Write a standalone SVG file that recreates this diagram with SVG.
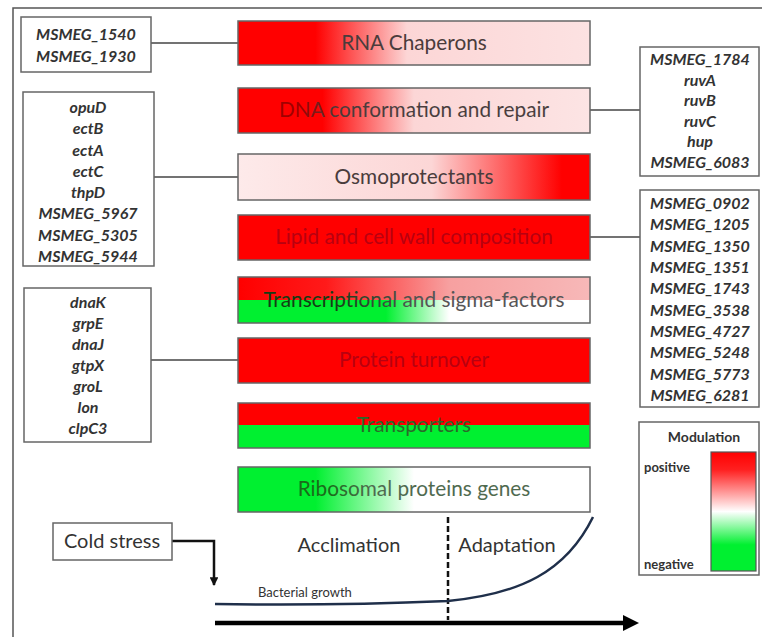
<svg xmlns="http://www.w3.org/2000/svg" width="762" height="637" viewBox="0 0 762 637">
<defs>
<style>
.frame{fill:none;stroke:#555;stroke-width:1.5}
.gbox{fill:#fff;stroke:#666;stroke-width:1.5}
.gene{font-family:Lato,"Liberation Sans",sans-serif;font-size:16px;font-weight:bold;font-style:italic;fill:#333;text-anchor:middle}
.bar{stroke:#666;stroke-width:1.5}
.blabel{font-family:Lato,"Liberation Sans",sans-serif;font-size:20.8px;text-anchor:middle}
.conn{fill:none;stroke:#444;stroke-width:1.5}
.lbl{font-family:Lato,"Liberation Sans",sans-serif;fill:#333}
.leg{font-family:Lato,"Liberation Sans",sans-serif;font-weight:bold;fill:#333}
</style>
<linearGradient id="gRna" x1="0" y1="0" x2="1" y2="0">
<stop offset="0" stop-color="#ff0000"/><stop offset="0.22" stop-color="#ff0000"/><stop offset="0.48" stop-color="#fcd6d6"/><stop offset="1" stop-color="#fce2e2"/>
</linearGradient>
<linearGradient id="gDna" x1="0" y1="0" x2="1" y2="0">
<stop offset="0" stop-color="#ff0000"/><stop offset="0.24" stop-color="#ff0000"/><stop offset="0.5" stop-color="#fcd6d6"/><stop offset="1" stop-color="#fce4e4"/>
</linearGradient>
<linearGradient id="gOsmo" x1="0" y1="0" x2="1" y2="0">
<stop offset="0" stop-color="#fdeaea"/><stop offset="0.55" stop-color="#fcd6d6"/><stop offset="0.92" stop-color="#ff0000"/><stop offset="1" stop-color="#ff0000"/>
</linearGradient>
<linearGradient id="gTrTop" x1="0" y1="0" x2="1" y2="0">
<stop offset="0" stop-color="#ff0000"/><stop offset="0.25" stop-color="#ff1a1a"/><stop offset="0.6" stop-color="#f7a0a0"/><stop offset="1" stop-color="#f7b8b8"/>
</linearGradient>
<linearGradient id="gTrBot" x1="0" y1="0" x2="1" y2="0">
<stop offset="0" stop-color="#00f030"/><stop offset="0.42" stop-color="#00f030"/><stop offset="0.6" stop-color="#ffffff"/><stop offset="1" stop-color="#ffffff"/>
</linearGradient>
<linearGradient id="gRibo" x1="0" y1="0" x2="1" y2="0">
<stop offset="0" stop-color="#00f030"/><stop offset="0.22" stop-color="#00f030"/><stop offset="0.5" stop-color="#ffffff"/><stop offset="1" stop-color="#ffffff"/>
</linearGradient>
<linearGradient id="gLeg" x1="0" y1="0" x2="0" y2="1">
<stop offset="0" stop-color="#ff0000"/><stop offset="0.15" stop-color="#ff2020"/><stop offset="0.5" stop-color="#ffffff"/><stop offset="0.78" stop-color="#00f030"/><stop offset="1" stop-color="#00f030"/>
</linearGradient>
<linearGradient id="tDna" gradientUnits="userSpaceOnUse" x1="300" y1="0" x2="335" y2="0">
<stop offset="0" stop-color="#a00000"/><stop offset="1" stop-color="#4a3c3c"/>
</linearGradient>
<linearGradient id="tTrans" gradientUnits="userSpaceOnUse" x1="330" y1="0" x2="420" y2="0">
<stop offset="0" stop-color="#143c14"/><stop offset="1" stop-color="#555555"/>
</linearGradient>
<linearGradient id="tRibo" gradientUnits="userSpaceOnUse" x1="330" y1="0" x2="370" y2="0">
<stop offset="0" stop-color="#1a6a1a"/><stop offset="1" stop-color="#4f6a4f"/>
</linearGradient>
<marker id="arrSmall" viewBox="0 0 10 10" refX="9" refY="5" markerWidth="3.5" markerHeight="3.5" orient="auto">
<path d="M0,0 L10,5 L0,10 z" fill="#111"/>
</marker>
</defs>

<rect width="762" height="637" fill="#fff"/>
<path class="frame" d="M13,637 V8 H762"/>

<g id="connectors">
<line class="conn" x1="151" y1="43" x2="238" y2="43"/>
<line class="conn" x1="154" y1="177" x2="238" y2="177"/>
<line class="conn" x1="151" y1="360" x2="238" y2="360"/>
<line class="conn" x1="590" y1="110" x2="640" y2="110"/>
<line class="conn" x1="590" y1="237" x2="640" y2="237"/>
<polyline points="172,541 214,541 214,585" fill="none" stroke="#111" stroke-width="2.5" marker-end="url(#arrSmall)"/>
</g>

<g id="genes-rna">
<rect class="gbox" x="21" y="17" width="130" height="55"/>
<text class="gene" x="86" y="40">MSMEG_1540</text>
<text class="gene" x="86" y="62">MSMEG_1930</text>
</g>

<g id="genes-osmo">
<rect class="gbox" x="23" y="92" width="131" height="174"/>
<text class="gene" x="88" y="113">opuD</text>
<text class="gene" x="88" y="134">ectB</text>
<text class="gene" x="88" y="156">ectA</text>
<text class="gene" x="88" y="177">ectC</text>
<text class="gene" x="88" y="198">thpD</text>
<text class="gene" x="88" y="219">MSMEG_5967</text>
<text class="gene" x="88" y="241">MSMEG_5305</text>
<text class="gene" x="88" y="262">MSMEG_5944</text>
</g>

<g id="genes-protein">
<rect class="gbox" x="24" y="288" width="127" height="154"/>
<text class="gene" x="88" y="308">dnaK</text>
<text class="gene" x="88" y="329">grpE</text>
<text class="gene" x="88" y="350">dnaJ</text>
<text class="gene" x="88" y="371">gtpX</text>
<text class="gene" x="88" y="392">groL</text>
<text class="gene" x="88" y="413">lon</text>
<text class="gene" x="88" y="434">clpC3</text>
</g>

<g id="genes-dna">
<rect class="gbox" x="640" y="47" width="119" height="129"/>
<text class="gene" x="700" y="65">MSMEG_1784</text>
<text class="gene" x="700" y="86">ruvA</text>
<text class="gene" x="700" y="106">ruvB</text>
<text class="gene" x="700" y="127">ruvC</text>
<text class="gene" x="700" y="147">hup</text>
<text class="gene" x="700" y="168">MSMEG_6083</text>
</g>

<g id="genes-lipid">
<rect class="gbox" x="640" y="190" width="119" height="217"/>
<text class="gene" x="700" y="209">MSMEG_0902</text>
<text class="gene" x="700" y="230">MSMEG_1205</text>
<text class="gene" x="700" y="252">MSMEG_1350</text>
<text class="gene" x="700" y="273">MSMEG_1351</text>
<text class="gene" x="700" y="294">MSMEG_1743</text>
<text class="gene" x="700" y="316">MSMEG_3538</text>
<text class="gene" x="700" y="337">MSMEG_4727</text>
<text class="gene" x="700" y="358">MSMEG_5248</text>
<text class="gene" x="700" y="380">MSMEG_5773</text>
<text class="gene" x="700" y="401">MSMEG_6281</text>
</g>

<g id="bar-rna">
<rect class="bar" x="238" y="21" width="352" height="44" fill="url(#gRna)"/>
<text class="blabel" x="414" y="50" fill="#4a3c3c">RNA Chaperons</text>
</g>
<g id="bar-dna">
<rect class="bar" x="238" y="88" width="352" height="45" fill="url(#gDna)"/>
<text class="blabel" x="414" y="117" fill="url(#tDna)">DNA conformation and repair</text>
</g>
<g id="bar-osmo">
<rect class="bar" x="238" y="154" width="352" height="46" fill="url(#gOsmo)"/>
<text class="blabel" x="414" y="184" fill="#4a3c3c">Osmoprotectants</text>
</g>
<g id="bar-lipid">
<rect class="bar" x="238" y="215" width="352" height="45" fill="#ff0000"/>
<text class="blabel" x="414" y="244" fill="#b80010">Lipid and cell wall composition</text>
</g>
<g id="bar-trans">
<rect x="238" y="277" width="352" height="23" fill="url(#gTrTop)"/>
<rect x="238" y="300" width="352" height="23" fill="url(#gTrBot)"/>
<rect class="bar" x="238" y="277" width="352" height="46" fill="none"/>
<text class="blabel" x="414" y="307" fill="url(#tTrans)">Transcriptional and sigma-factors</text>
</g>
<g id="bar-protein">
<rect class="bar" x="238" y="338" width="352" height="45" fill="#ff0000"/>
<text class="blabel" x="414" y="367" fill="#b80010">Protein turnover</text>
</g>
<g id="bar-transporters">
<rect x="238" y="403" width="352" height="22" fill="#ff0000"/>
<rect x="238" y="425" width="352" height="23" fill="#00f030"/>
<rect class="bar" x="238" y="403" width="352" height="45" fill="none"/>
<text class="blabel" x="414" y="432" fill="#2a6a2a">Transporters</text>
</g>
<g id="bar-ribo">
<rect class="bar" x="238" y="467" width="352" height="45" fill="url(#gRibo)"/>
<text class="blabel" x="414" y="496" fill="url(#tRibo)">Ribosomal proteins genes</text>
</g>

<g id="cold-stress">
<rect class="gbox" x="53" y="523" width="119" height="37"/>
<text class="lbl" x="112" y="548" font-size="20" text-anchor="middle">Cold stress</text>
</g>

<g id="timeline">
<line x1="448" y1="517" x2="448" y2="620" stroke="#111" stroke-width="2.5" stroke-dasharray="6,3"/>
<path d="M215,604 Q330,606 448,601 C520,594 566,572 593,517" fill="none" stroke="#1f2f4a" stroke-width="2.5"/>
<line x1="215" y1="623" x2="625" y2="623" stroke="#000" stroke-width="4.5"/>
<polygon points="623,615 639,623 623,631" fill="#000"/>
<text class="lbl" x="349" y="552" font-size="20" text-anchor="middle">Acclimation</text>
<text class="lbl" x="507" y="552" font-size="20" text-anchor="middle">Adaptation</text>
<text class="lbl" x="258" y="597" font-size="13" fill="#444">Bacterial growth</text>
</g>

<g id="legend">
<rect class="gbox" x="639" y="422" width="120" height="153"/>
<text class="leg" x="704" y="442" font-size="14" text-anchor="middle">Modulation</text>
<text class="leg" x="644" y="472" font-size="13">positive</text>
<text class="leg" x="644" y="569" font-size="13">negative</text>
<rect x="711" y="452" width="45" height="119" fill="url(#gLeg)" stroke="#555" stroke-width="1.2"/>
</g>
</svg>
